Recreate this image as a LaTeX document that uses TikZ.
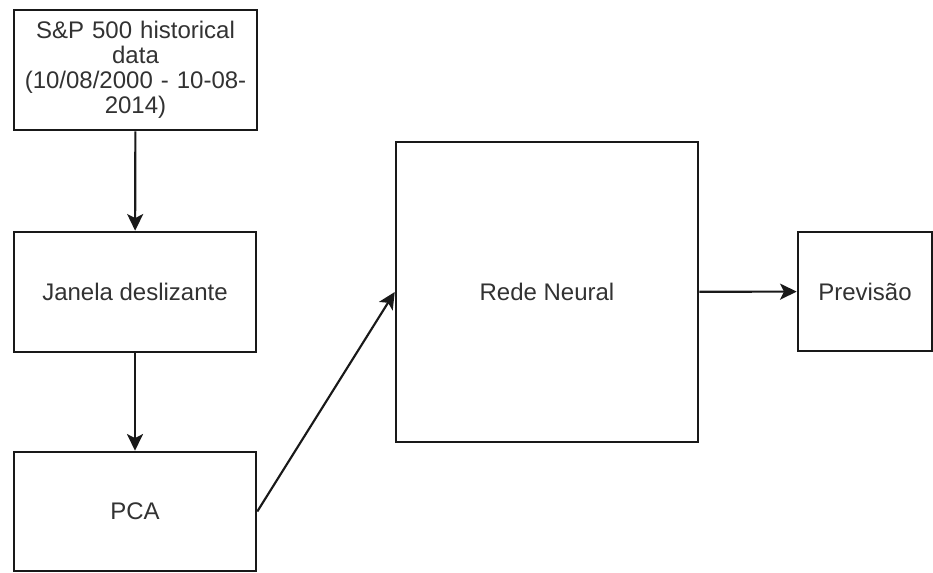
\documentclass[tikz,border=0pt]{standalone}
\usepackage{fontspec}
\setmainfont{Liberation Sans}
\usetikzlibrary{arrows.meta}
\definecolor{txtgray}{RGB}{50,50,50}
\definecolor{linegray}{RGB}{25,25,25}

\begin{document}
\begin{tikzpicture}
                [x=0.75pt,y=-0.75pt,
                box/.style={rectangle,draw=linegray,line width=1.9pt,inner sep=0pt,
                    align=center,text=txtgray,font=\fontsize{18}{18.8}\selectfont},
                arr/.style={draw=linegray,line width=1.6pt,-{Stealth[length=12.5pt,width=12pt,inset=3pt]}}]
                \useasboundingbox (0,0) rectangle (933,572);
                \node[box,minimum width=182.25pt,minimum height=90pt,text width=175pt] (data) at (135.5,70)
                    {S\&P 500 historical\\data\\(10/08/2000 - 10-08-\\2014)};
                \node[box,minimum width=181.5pt,minimum height=90pt] (janela) at (135,292){Janela deslizante};
                \node[box,minimum width=181.5pt,minimum height=89.25pt] (pca) at (135,511.5){PCA};
                \node[box,minimum width=226.5pt,minimum height=225pt] (rede) at (547,292){Rede Neural};
                \node[box,minimum width=100.5pt,minimum height=89.25pt] (prev) at (865,291.5){Previsão};
                \path (data) edge[arr] (janela)
                      (janela) edge[arr] (pca)
                      (pca.east) edge[arr] (rede.west)
                      (rede) edge[arr] (prev);
            \end{tikzpicture}
\end{document}
